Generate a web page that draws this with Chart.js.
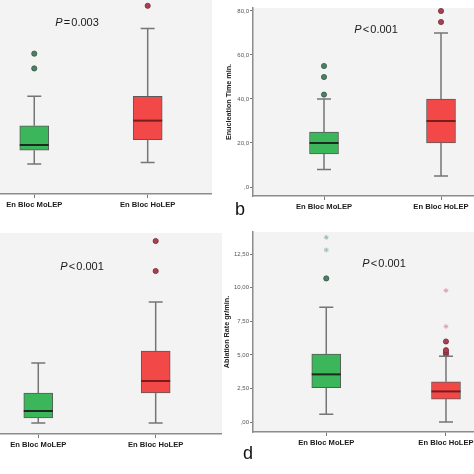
<!DOCTYPE html>
<html><head><meta charset="utf-8">
<script src="https://cdn.jsdelivr.net/npm/chart.js@4.4.1/dist/chart.umd.min.js"></script>
<style>
html,body{margin:0;padding:0;background:#fff;width:474px;height:474px;overflow:hidden;position:relative}
canvas{position:absolute;display:block}
</style></head><body>
<canvas id="ca" width="212" height="237" style="left:0;top:0"></canvas>
<canvas id="cb" width="262" height="237" style="left:212px;top:0"></canvas>
<canvas id="cc" width="222" height="244" style="left:0;top:230px"></canvas>
<canvas id="cd" width="262" height="244" style="left:212px;top:230px"></canvas>
<script>
const categories = ['En Bloc MoLEP', 'En Bloc HoLEP'];

// Panel a (P = 0.003), y axis cropped in the original
const aLow = [12, 13];
const aQ1 = [20, 26];
const aMedian = [23, 37];
const aQ3 = [34, 51];
const aHigh = [51, 90];
const aOutMoLEP = [67, 75.5];
const aOutHoLEP = [103];

// Panel b: Enucleation Time min.
const bLow = [8, 5];
const bQ1 = [15, 20];
const bMedian = [20, 30];
const bQ3 = [25, 40];
const bHigh = [40, 70];
const bOutMoLEP = [42, 50, 55];
const bOutHoLEP = [75, 80];
const bTicks = [0, 20, 40, 60, 80];
const bTickLabels = [',0', '20,0', '40,0', '60,0', '80,0'];

// Panel c (P < 0.001), y axis cropped in the original
const cLow = [1, 1];
const cQ1 = [6, 31];
const cMedian = [13, 43];
const cQ3 = [31, 73];
const cHigh = [61, 122];
const cOutMoLEP = [];
const cOutHoLEP = [153, 183];

// Panel d: Ablation Rate gr/min.
const dLow = [0.57, 0];
const dQ1 = [2.55, 1.71];
const dMedian = [3.55, 2.28];
const dQ3 = [5.07, 3.0];
const dHigh = [8.55, 4.9];
const dOutMoLEP = [10.7];
const dOutHoLEP = [5.05, 5.2, 5.35, 6.0];
const dExtMoLEP = [12.82, 13.76];
const dExtHoLEP = [7.12, 9.8];
const dTicks = [0, 2.5, 5, 7.5, 10, 12.5];
const dTickLabels = [',00', '2,50', '5,00', '7,50', '10,00', '12,50'];

const FAM = '"Liberation Sans", Arial, sans-serif';
const GREEN = '#3bb65b';
const RED = '#f24848';
const BG = '#f3f3f3';

const extras = {
  id: 'boxExtras',
  beforeDraw(chart, args, o) {
    const {ctx, chartArea: a} = chart;
    ctx.save();
    ctx.fillStyle = BG;
    ctx.fillRect(a.left, a.top, a.right - a.left, a.bottom - a.top);
    ctx.restore();
  },
  afterDatasetsDraw(chart, args, o) {
    const {ctx} = chart;
    const xs = chart.scales.x, ys = chart.scales.y;
    ctx.save();
    categories.forEach((c, i) => {
      const x = xs.getPixelForValue(i);
      const yl = ys.getPixelForValue(o.low[i]);
      const y1 = ys.getPixelForValue(o.q1[i]);
      const y3 = ys.getPixelForValue(o.q3[i]);
      const yh = ys.getPixelForValue(o.high[i]);
      const ym = ys.getPixelForValue(o.median[i]);
      ctx.strokeStyle = '#757575';
      ctx.lineWidth = 1.5;
      ctx.beginPath();
      ctx.moveTo(x, yl); ctx.lineTo(x, y1);
      ctx.moveTo(x, y3); ctx.lineTo(x, yh);
      ctx.moveTo(x - 7, yl); ctx.lineTo(x + 7, yl);
      ctx.moveTo(x - 7, yh); ctx.lineTo(x + 7, yh);
      ctx.stroke();
      ctx.strokeStyle = i === 0 ? '#1f2a1f' : '#7a1c1c';
      ctx.lineWidth = 2;
      ctx.beginPath();
      ctx.moveTo(x - 14.5, ym); ctx.lineTo(x + 14.5, ym);
      ctx.stroke();
    });
    // P value
    const p = o.p;
    const size = 11;
    ctx.fillStyle = '#1a1a1a';
    ctx.textBaseline = 'middle';
    ctx.font = 'italic ' + size + 'px ' + FAM;
    const wP = ctx.measureText('P').width;
    ctx.font = size + 'px ' + FAM;
    const wOp = ctx.measureText(p.op).width;
    const wV = ctx.measureText(p.val).width;
    const gap = 1.2;
    const total = wP + gap + wOp + gap + wV;
    let x0 = p.x - total / 2;
    ctx.textAlign = 'left';
    ctx.font = 'italic ' + size + 'px ' + FAM;
    ctx.fillText('P', x0, p.y);
    x0 += wP + gap;
    ctx.font = size + 'px ' + FAM;
    ctx.fillText(p.op, x0, p.y);
    x0 += wOp + gap;
    ctx.fillText(p.val, x0, p.y);
    if (o.letter) {
      ctx.font = '18px ' + FAM;
      ctx.textAlign = 'center';
      ctx.fillStyle = '#111';
      ctx.fillText(o.letter.text, o.letter.x, o.letter.y);
    }
    ctx.restore();
  }
};

function panel(id, s) {
  const datasets = [{
    type: 'bar',
    data: categories.map((c, i) => ({x: i, y: [s.q1[i], s.q3[i]]})),
    backgroundColor: [GREEN, RED],
    borderColor: '#5a5a5a',
    borderWidth: 1,
    borderSkipped: false,
    barThickness: 29
  }];
  const outStyle = [
    {bg: '#4d7f62', bd: '#35584a'},
    {bg: '#a8404f', bd: '#7a2c38'}
  ];
  [s.outMo, s.outHo].forEach((arr, i) => {
    if (arr && arr.length) datasets.push({
      type: 'scatter',
      data: arr.map(v => ({x: i, y: v})),
      pointRadius: 2.6,
      pointBackgroundColor: outStyle[i].bg,
      pointBorderColor: outStyle[i].bd,
      pointBorderWidth: 0.8,
      clip: false
    });
  });
  const extStyle = ['#9cc4aa', '#dca4ad'];
  [s.extMo, s.extHo].forEach((arr, i) => {
    if (arr && arr.length) datasets.push({
      type: 'scatter',
      data: arr.map(v => ({x: i, y: v})),
      pointStyle: 'star',
      pointRadius: 2.4,
      pointBackgroundColor: extStyle[i],
      pointBorderColor: extStyle[i],
      pointBorderWidth: 1,
      clip: false
    });
  });
  new Chart(document.getElementById(id), {
    type: 'bar',
    data: {datasets},
    plugins: [extras],
    options: {
      responsive: false,
      animation: false,
      events: [],
      layout: {autoPadding: false, padding: {top: s.padTop, left: 0, right: 0, bottom: 0}},
      plugins: {
        legend: {display: false},
        tooltip: {enabled: false},
        boxExtras: {
          low: s.low, q1: s.q1, median: s.median, q3: s.q3, high: s.high,
          p: s.p, letter: s.letter
        }
      },
      scales: {
        x: {
          type: 'linear', min: s.xMin, max: s.xMax, offset: false,
          afterBuildTicks: sc => { sc.ticks = categories.map((c, i) => ({value: i})); },
          afterFit: sc => { sc.height = s.xHeight; sc.paddingLeft = 0; sc.paddingRight = 0; },
          ticks: {
            callback: v => categories[v],
            autoSkip: false, maxRotation: 0, minRotation: 0, padding: 2,
            color: '#1a1a1a',
            font: {family: FAM, size: 7.6, weight: 'bold'}
          },
          grid: {display: true, offset: false, drawOnChartArea: false, drawTicks: true, tickLength: 4, color: '#777', lineWidth: 1},
          border: {display: true, color: '#8c8c8c', width: 1.5}
        },
        y: {
          type: 'linear', display: s.showY, min: s.yMin, max: s.yMax,
          afterBuildTicks: sc => { sc.ticks = (s.ticks || []).map(v => ({value: v})); },
          afterFit: sc => {
            sc.width = s.showY ? 41 : 0;
            sc.paddingTop = 0; sc.paddingBottom = 0;
          },
          ticks: {
            callback: v => s.tickLabels ? s.tickLabels[s.ticks.indexOf(v)] : '',
            color: '#555', padding: 1,
            font: {family: FAM, size: 6}
          },
          grid: {display: true, drawOnChartArea: false, drawTicks: true, tickLength: 3, color: '#777', lineWidth: 1},
          border: {display: true, color: '#8c8c8c', width: 1.5},
          title: {
            display: !!s.title, text: s.title || '', color: '#222',
            font: {family: FAM, size: 7.2, weight: 'bold'},
            padding: {top: s.titlePad || 12, bottom: 0}
          }
        }
      }
    }
  });
}

panel('ca', {
  low: aLow, q1: aQ1, median: aMedian, q3: aQ3, high: aHigh,
  outMo: aOutMoLEP, outHo: aOutHoLEP,
  yMin: -5.17, yMax: 106.32, xMin: -0.302, xMax: 1.567,
  showY: false, padTop: 0, xHeight: 43,
  p: {op: '=', val: '0.003', x: 77, y: 23}
});
panel('cb', {
  low: bLow, q1: bQ1, median: bMedian, q3: bQ3, high: bHigh,
  outMo: bOutMoLEP, outHo: bOutHoLEP,
  ticks: bTicks, tickLabels: bTickLabels, title: 'Enucleation Time min.', titlePad: 12.6,
  yMin: -4.09, yMax: 81.36, xMin: -0.607, xMax: 1.282,
  showY: true, padTop: 8, xHeight: 41,
  p: {op: '<', val: '0.001', x: 164, y: 30},
  letter: {text: 'b', x: 28, y: 210}
});
panel('cc', {
  low: cLow, q1: cQ1, median: cMedian, q3: cQ3, high: cHigh,
  outMo: cOutMoLEP, outHo: cOutHoLEP,
  yMin: -10, yMax: 191, xMin: -0.326, xMax: 1.565,
  showY: false, padTop: 3, xHeight: 40,
  p: {op: '<', val: '0.001', x: 82, y: 37}
});
panel('cd', {
  low: dLow, q1: dQ1, median: dMedian, q3: dQ3, high: dHigh,
  outMo: dOutMoLEP, outHo: dOutHoLEP, extMo: dExtMoLEP, extHo: dExtHoLEP,
  ticks: dTicks, tickLabels: dTickLabels, title: 'Ablation Rate gr/min.', titlePad: 10.8,
  yMin: -0.745, yMax: 14.16, xMin: -0.612, xMax: 1.234,
  showY: true, padTop: 2, xHeight: 42,
  p: {op: '<', val: '0.001', x: 172, y: 34},
  letter: {text: 'd', x: 36, y: 224}
});
</script>
</body></html>
